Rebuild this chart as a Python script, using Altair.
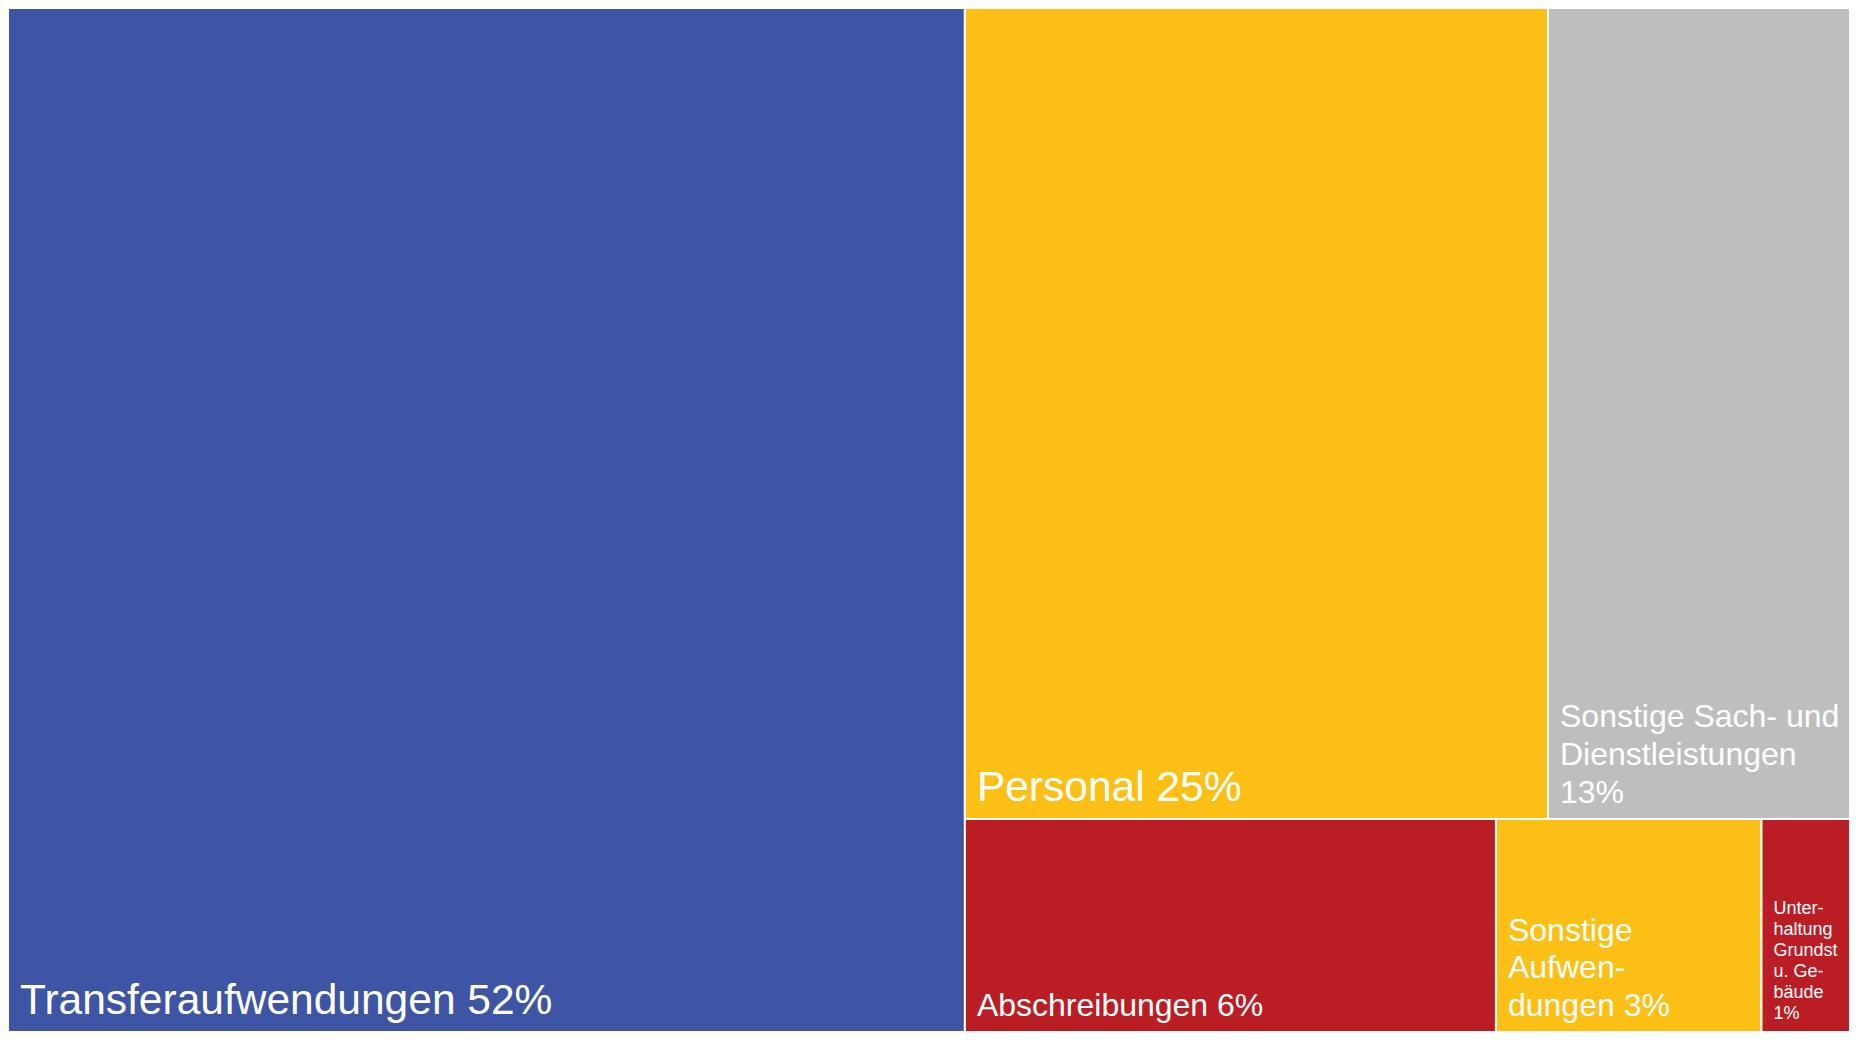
import altair as alt
import pandas as pd

# ---- data ----
categories = [
    "Transferaufwendungen",
    "Personal",
    "Sonstige Sach- und Dienstleistungen",
    "Abschreibungen",
    "Sonstige Aufwendungen",
    "Unterhaltung Grundst u. Gebäude",
]
shares = [52.0, 25.1, 13.0, 6.0, 3.0, 1.0]
labels = [
    "Transferaufwendungen 52%",
    "Personal 25%",
    "Sonstige Sach- und\nDienstleistungen\n13%",
    "Abschreibungen 6%",
    "Sonstige\nAufwen-\ndungen 3%",
    "Unter-\nhaltung\nGrundst\nu. Ge-\nbäude\n1%",
]
colors = ["#3D55A4", "#FBBF16", "#BEBEBE", "#BB1D24", "#FBBF16", "#BB1D24"]

# label styling (font size, line height) per category
label_style = {
    "Transferaufwendungen": (42.5, 48),
    "Personal": (42.5, 48),
    "Sonstige Sach- und Dienstleistungen": (32, 38),
    "Abschreibungen": (32, 38),
    "Sonstige Aufwendungen": (32, 37.5),
    "Unterhaltung Grundst u. Gebäude": (18, 21),
}

W, H = 1842, 1024


# ---- squarified treemap layout (same algorithm as d3 / Vega treemap) ----
def squarify(vals, x0, y0, x1, y1, ratio=(1 + 5 ** 0.5) / 2):
    n = len(vals)
    rects = [None] * n
    value = float(sum(vals))
    i0 = i1 = 0
    while i0 < n:
        dx, dy = x1 - x0, y1 - y0
        sumv = vals[i1]
        i1 += 1
        minv = maxv = sumv
        alpha = max(dy / dx, dx / dy) / (value * ratio)
        beta = sumv * sumv * alpha
        minr = max(maxv / beta, beta / minv)
        while i1 < n:
            nv = vals[i1]
            sumv += nv
            minv = min(minv, nv)
            maxv = max(maxv, nv)
            beta = sumv * sumv * alpha
            newr = max(maxv / beta, beta / minv)
            if newr > minr:
                sumv -= nv
                break
            minr = newr
            i1 += 1
        if dx < dy:
            ny = y0 + dy * sumv / value
            cx = x0
            for k in range(i0, i1):
                w = dx * vals[k] / sumv
                rects[k] = (cx, y0, cx + w, ny)
                cx += w
            y0 = ny
        else:
            nx = x0 + dx * sumv / value
            cy = y0
            for k in range(i0, i1):
                h = dy * vals[k] / sumv
                rects[k] = (x0, cy, nx, cy + h)
                cy += h
            x0 = nx
        value -= sumv
        i0 = i1
    return rects


rects = squarify(shares, 0, 0, W, H)
df = pd.DataFrame({
    "category": categories,
    "share": shares,
    "label": labels,
    "x0": [r[0] for r in rects],
    "y0": [r[1] for r in rects],
    "x1": [r[2] for r in rects],
    "y1": [r[3] for r in rects],
})

xs = alt.Scale(domain=[0, W], nice=False, zero=False)
ys = alt.Scale(domain=[0, H], nice=False, zero=False, reverse=True)

base = alt.Chart(df)

cells = base.mark_rect(stroke="white", strokeWidth=2).encode(
    x=alt.X("x0:Q", scale=xs, axis=None),
    x2="x1:Q",
    y=alt.Y("y0:Q", scale=ys, axis=None),
    y2="y1:Q",
    color=alt.Color("category:N", scale=alt.Scale(domain=categories, range=colors), legend=None),
    tooltip=["category:N", "share:Q"],
)


def text_layer(cat, label):
    size, lh = label_style[cat]
    n_lines = label.count("\n") + 1
    return base.transform_filter(
        alt.datum.category == cat
    ).mark_text(
        align="left", baseline="bottom", dx=12, dy=-9.5 - (n_lines - 1) * lh,
        font="Liberation Sans", fontSize=size, lineHeight=lh,
        lineBreak="\n", color="white",
    ).encode(
        x=alt.X("x0:Q", scale=xs, axis=None),
        y=alt.Y("y1:Q", scale=ys, axis=None),
        text="label:N",
    )


texts = [text_layer(c, l) for c, l in zip(categories, labels)]

chart = alt.layer(cells, *texts).properties(
    width=W, height=H, padding=0,
    autosize=alt.AutoSizeParams(type="none"),
).configure_view(stroke=None)

chart.save("out.html", embed_options={"renderer": "svg", "actions": False})
